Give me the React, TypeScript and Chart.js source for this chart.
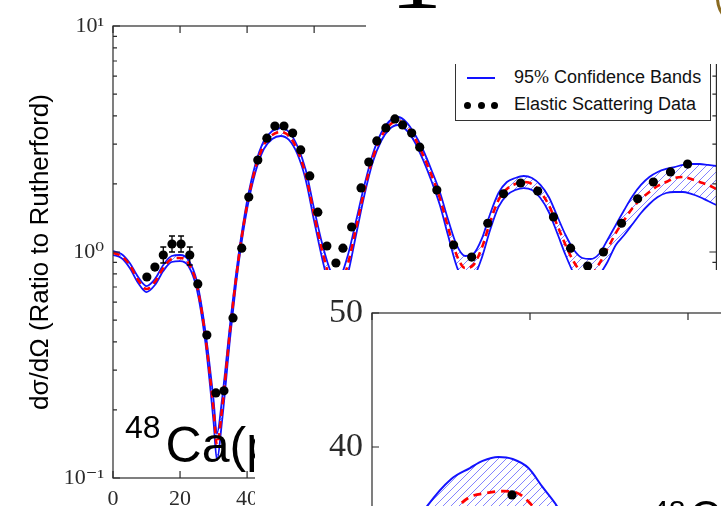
import React, { useEffect, useRef } from 'react';
import { Chart, registerables } from 'chart.js';

Chart.register(...registerables);

// ---------- main panel data (scattering angle in degrees) ----------
const thetaDeg = [0, 2.5, 5, 7.5, 10, 12.5, 15, 17.5, 20, 22.5,
  25, 27.5, 30, 31, 32.5, 35, 37.5, 40, 42.5, 45,
  47.5, 50, 52.5, 55, 57.5, 60, 62.5, 65, 67, 70,
  72.5, 75, 77.5, 80, 82.5, 85, 87.5, 90, 92.5, 95,
  97.5, 100, 102.5, 105, 107.5, 110, 112.5, 115, 117.5, 120,
  122.5, 125, 127.5, 130, 132.5, 135, 137.5, 140, 142.5, 145,
  147.5, 150, 152.5, 155, 157.5, 160, 162.5, 165, 167.5, 170,
  172.5, 175, 177.5, 180];

const theoryCurve = [0.990, 0.960, 0.876, 0.752, 0.686, 0.737, 0.850, 0.931, 0.941, 0.894,
  0.714, 0.429, 0.200, 0.140, 0.200, 0.461, 0.941, 1.614, 2.353, 2.975,
  3.294, 3.396, 3.261, 2.827, 2.191, 1.458, 1.000, 0.737, 0.665, 0.876,
  1.277, 1.881, 2.606, 3.228, 3.647, 3.798, 3.610, 3.195, 2.686, 2.191,
  1.734, 1.277, 0.970, 0.850, 0.876, 1.041, 1.357, 1.698, 1.900, 2.000,
  2.040, 2.000, 1.843, 1.614, 1.317, 1.074, 0.903, 0.807, 0.791, 0.885,
  1.031, 1.214, 1.385, 1.566, 1.716, 1.843, 1.959, 2.040, 2.125, 2.147,
  2.104, 2.040, 1.980, 1.900];

const upperBand = [1.010, 0.980, 0.894, 0.775, 0.707, 0.759, 0.876, 0.960, 0.970, 0.922,
  0.744, 0.452, 0.221, 0.157, 0.221, 0.490, 0.980, 1.681, 2.451, 3.099,
  3.431, 3.538, 3.396, 2.944, 2.306, 1.550, 1.074, 0.816, 0.752, 0.960,
  1.372, 1.980, 2.714, 3.362, 3.798, 3.957, 3.760, 3.328, 2.827, 2.306,
  1.843, 1.385, 1.074, 0.960, 0.980, 1.142, 1.473, 1.824, 2.040, 2.125,
  2.169, 2.125, 1.980, 1.751, 1.443, 1.189, 1.021, 0.941, 0.931, 0.980,
  1.130, 1.317, 1.534, 1.769, 1.980, 2.147, 2.259, 2.330, 2.377, 2.427,
  2.451, 2.451, 2.427, 2.402];

const lowerBand = [0.970, 0.941, 0.850, 0.729, 0.665, 0.714, 0.824, 0.903, 0.912, 0.867,
  0.686, 0.404, 0.177, 0.120, 0.177, 0.425, 0.894, 1.550, 2.259, 2.856,
  3.162, 3.261, 3.131, 2.714, 2.083, 1.372, 0.922, 0.659, 0.583, 0.791,
  1.189, 1.787, 2.502, 3.099, 3.501, 3.647, 3.466, 3.067, 2.554, 2.062,
  1.614, 1.177, 0.867, 0.737, 0.767, 0.941, 1.251, 1.582, 1.787, 1.881,
  1.919, 1.881, 1.734, 1.503, 1.214, 0.970, 0.799, 0.693, 0.665, 0.783,
  0.903, 1.074, 1.189, 1.330, 1.488, 1.631, 1.751, 1.824, 1.843, 1.843,
  1.806, 1.751, 1.681, 1.614];

const dataTheta = [10.1, 12.5, 15.0, 17.6, 20.3, 22.9, 25.3, 28.0, 30.7, 33.1,
  35.8, 38.4, 40.5, 43.2, 45.9, 48.3, 51.0, 53.6, 56.0, 58.7,
  61.1, 63.8, 66.5, 68.6, 71.2, 74.0, 76.3, 78.7, 81.4, 84.1,
  86.4, 89.1, 91.5, 96.6, 101.6, 107.0, 111.8, 116.5, 121.6, 126.7,
  131.4, 136.5, 141.6, 146.3, 151.7, 156.5, 161.2, 166.3, 171.4];

const dataValue = [0.775, 0.858, 0.970, 1.085, 1.085, 0.970, 0.722, 0.429, 0.238, 0.243,
  0.511, 1.04, 1.75, 2.55, 3.19, 3.61, 3.61, 3.36, 2.83, 2.17,
  1.50, 1.063, 0.894, 1.04, 1.29, 1.92, 2.50, 3.10, 3.54, 3.88,
  3.65, 3.36, 2.91, 1.88, 1.074, 0.95, 1.34, 1.81, 2.02, 1.86,
  1.43, 1.04, 0.867, 1.0, 1.34, 1.72, 2.04, 2.26, 2.45];

const errTheta = [15.0, 17.6, 20.3, 22.9];
const errLow = [0.894, 1.0, 1.0, 0.876];
const errHigh = [1.052, 1.177, 1.177, 1.052];

const xTicks = [0, 20, 40, 60, 80, 100, 120, 140, 160, 180];
const yMajorTicks = [0.1, 1, 10];
const yTickLabels = ['10⁻¹', '10⁰', '10¹'];
const yMinorTicks = [0.2, 0.3, 0.4, 0.5, 0.6, 0.7, 0.8, 0.9, 2, 3, 4, 5, 6, 7, 8, 9];

// ---------- inset panel data ----------
const insetX = [2, 3.5, 5, 6.2, 7, 8, 8.9, 9.9, 10.8, 11.7, 12.6, 14];
const insetUpper = [32.8, 35.6, 37.6, 38.43, 38.96, 39.25, 39.1, 38.43, 37.0, 35.6, 33.8, 31.0];
const insetLower = [30.5, 31.5, 32.5, 33.3, 33.8, 34.2, 34.0, 33.5, 32.8, 32.0, 31.0, 30.0];
const insetTheoryX = [4, 5.57, 6.2, 7.28, 8.29, 9.18, 10.0, 10.8, 11.5];
const insetTheory = [33.4, 35.7, 36.27, 36.57, 36.7, 36.57, 35.8, 34.6, 33.2];
const insetDataX = [8.86];
const insetDataY = [36.42];
const insetXTicks = [0, 10, 20, 30];
const insetYTicks = [30, 40, 50];

const SERIF = "'Liberation Serif', 'DejaVu Serif', serif";
const SANS = "'Liberation Sans', Arial, sans-serif";
const BLUE = '#1212ff';

function pts(xs: number[], ys: number[]) {
  return xs.map((x, i) => ({ x, y: ys[i] }));
}

function makeHatch() {
  const pc = document.createElement('canvas');
  pc.width = 8;
  pc.height = 8;
  const p = pc.getContext('2d')!;
  p.strokeStyle = 'rgba(110,110,255,0.85)';
  p.lineWidth = 1;
  p.beginPath();
  p.moveTo(0, 8); p.lineTo(8, 0);
  p.moveTo(-2, 2); p.lineTo(2, -2);
  p.moveTo(6, 10); p.lineTo(10, 6);
  p.stroke();
  return p.createPattern(pc, 'repeat');
}

function makeFrame(name: string, xMajor: number[], yMajor: number[], yMinor: number[]) {
  return {
    id: 'frame_' + name,
    afterDatasetsDraw(chart: any) {
      const { ctx, chartArea: a } = chart;
      const xs = chart.scales.x;
      const ys = chart.scales.y;
      ctx.save();
      ctx.strokeStyle = '#2a2a2a';
      ctx.lineWidth = 1.2;
      ctx.beginPath();
      for (const v of xMajor) {
        const p = xs.getPixelForValue(v);
        if (p < a.left - 0.5 || p > a.right + 0.5) continue;
        ctx.moveTo(p, a.bottom); ctx.lineTo(p, a.bottom - 7);
        ctx.moveTo(p, a.top); ctx.lineTo(p, a.top + 7);
      }
      for (const v of yMajor) {
        const p = ys.getPixelForValue(v);
        ctx.moveTo(a.left, p); ctx.lineTo(a.left + 7, p);
        ctx.moveTo(a.right, p); ctx.lineTo(a.right - 7, p);
      }
      for (const v of yMinor) {
        const p = ys.getPixelForValue(v);
        ctx.moveTo(a.left, p); ctx.lineTo(a.left + 4, p);
        ctx.moveTo(a.right, p); ctx.lineTo(a.right - 4, p);
      }
      ctx.stroke();
      ctx.strokeRect(a.left, a.top, a.right - a.left, a.bottom - a.top);
      ctx.restore();
    },
  };
}

const errorBarPlugin = {
  id: 'errorBars',
  afterDatasetsDraw(chart: any) {
    const { ctx } = chart;
    const xs = chart.scales.x;
    const ys = chart.scales.y;
    ctx.save();
    ctx.strokeStyle = '#000';
    ctx.lineWidth = 1.3;
    ctx.beginPath();
    errTheta.forEach((t, i) => {
      const x = xs.getPixelForValue(t);
      const y1 = ys.getPixelForValue(errLow[i]);
      const y2 = ys.getPixelForValue(errHigh[i]);
      ctx.moveTo(x, y1); ctx.lineTo(x, y2);
      ctx.moveTo(x - 3, y1); ctx.lineTo(x + 3, y1);
      ctx.moveTo(x - 3, y2); ctx.lineTo(x + 3, y2);
    });
    ctx.stroke();
    ctx.restore();
  },
};

function yLabel(v: number) {
  const i = yMajorTicks.findIndex((m) => Math.abs(m - v) / m < 1e-6);
  return i >= 0 ? yTickLabels[i] : '';
}

export default function App() {
  const mainRef = useRef<HTMLCanvasElement>(null);
  const insetRef = useRef<HTMLCanvasElement>(null);

  useEffect(() => {
    const hatch = makeHatch();
    const main = new Chart(mainRef.current!, {
      type: 'line',
      data: {
        datasets: [
          {
            label: 'Elastic Scattering Data',
            data: pts(dataTheta, dataValue),
            showLine: false,
            pointRadius: 4.6,
            pointBackgroundColor: '#000',
            pointBorderWidth: 0,
            borderColor: '#000',
            backgroundColor: '#000',
          },
          {
            label: 'Theory',
            data: pts(thetaDeg, theoryCurve),
            borderColor: '#ff0000',
            borderWidth: 2.6,
            borderDash: [7, 5],
            pointRadius: 0,
            fill: false,
            cubicInterpolationMode: 'monotone',
          },
          {
            label: '95% Confidence Bands',
            data: pts(thetaDeg, upperBand),
            borderColor: BLUE,
            borderWidth: 1.8,
            pointRadius: 0,
            fill: false,
            cubicInterpolationMode: 'monotone',
          },
          {
            label: '95% Confidence Bands (lower)',
            data: pts(thetaDeg, lowerBand),
            borderColor: BLUE,
            borderWidth: 1.8,
            pointRadius: 0,
            fill: '-1',
            backgroundColor: hatch as any,
            cubicInterpolationMode: 'monotone',
          },
        ],
      } as any,
      options: {
        responsive: false,
        animation: false,
        events: [],
        layout: { padding: { left: 0, right: 3, top: 26, bottom: 0 } },
        plugins: { legend: { display: false }, tooltip: { enabled: false } },
        scales: {
          x: {
            type: 'linear',
            min: 0,
            max: 180,
            grid: { display: false, drawTicks: false },
            border: { display: false },
            ticks: {
              stepSize: 20,
              padding: 8,
              autoSkip: false,
              maxRotation: 0,
              color: '#2a2a2a',
              font: { family: SERIF, size: 22 },
            },
            afterFit: (s: any) => {
              s.height = 28;
              s.paddingLeft = 0;
              s.paddingRight = 0;
            },
          },
          y: {
            type: 'logarithmic',
            min: 0.1,
            max: 10,
            grid: { display: false, drawTicks: false },
            border: { display: false },
            ticks: {
              padding: 9,
              autoSkip: false,
              color: '#2a2a2a',
              font: { family: SERIF, size: 22 },
              callback: (v: any) => yLabel(Number(v)),
            },
            title: {
              display: true,
              text: 'dσ/dΩ (Ratio to Rutherford)',
              color: '#000',
              font: { family: SANS, size: 26 },
              padding: { top: 25, bottom: 0 },
            },
            afterFit: (s: any) => {
              s.width = 113;
              s.paddingTop = 0;
              s.paddingBottom = 0;
            },
          },
        },
      } as any,
      plugins: [makeFrame('main', xTicks, yMajorTicks, yMinorTicks), errorBarPlugin],
    });

    const hatch2 = makeHatch();
    const inset = new Chart(insetRef.current!, {
      type: 'line',
      data: {
        datasets: [
          {
            label: 'data',
            data: pts(insetDataX, insetDataY),
            showLine: false,
            pointRadius: 4.6,
            pointBackgroundColor: '#000',
            pointBorderWidth: 0,
            borderColor: '#000',
          },
          {
            label: 'theory',
            data: pts(insetTheoryX, insetTheory),
            borderColor: '#ff0000',
            borderWidth: 2.8,
            borderDash: [8, 6],
            pointRadius: 0,
            fill: false,
            cubicInterpolationMode: 'monotone',
          },
          {
            label: 'upper',
            data: pts(insetX, insetUpper),
            borderColor: BLUE,
            borderWidth: 2,
            pointRadius: 0,
            fill: false,
            cubicInterpolationMode: 'monotone',
          },
          {
            label: 'lower',
            data: pts(insetX, insetLower),
            borderColor: BLUE,
            borderWidth: 2,
            pointRadius: 0,
            fill: '-1',
            backgroundColor: hatch2 as any,
            cubicInterpolationMode: 'monotone',
          },
        ],
      } as any,
      options: {
        responsive: false,
        animation: false,
        events: [],
        layout: { padding: { left: 0, right: 9, top: 43, bottom: 0 } },
        plugins: { legend: { display: false }, tooltip: { enabled: false } },
        scales: {
          x: {
            type: 'linear',
            min: 0,
            max: 30,
            grid: { display: false, drawTicks: false },
            border: { display: false },
            ticks: { display: false, stepSize: 10 },
            afterFit: (s: any) => {
              s.height = 29;
              s.paddingLeft = 0;
              s.paddingRight = 0;
            },
          },
          y: {
            type: 'linear',
            min: 30,
            max: 50,
            grid: { display: false, drawTicks: false },
            border: { display: false },
            ticks: {
              stepSize: 10,
              padding: 9,
              color: '#2a2a2a',
              font: { family: SERIF, size: 34 },
            },
            afterFit: (s: any) => {
              s.width = 117;
              s.paddingTop = 0;
              s.paddingBottom = 0;
            },
          },
        },
      } as any,
      plugins: [makeFrame('inset', insetXTicks, insetYTicks, [])],
    });

    return () => {
      main.destroy();
      inset.destroy();
    };
  }, []);

  const dot = (left: number) => (
    <div
      style={{
        position: 'absolute', left: left - 3.5, top: 64 - 3.5, width: 7, height: 7,
        borderRadius: '50%', background: '#000',
      }}
    />
  );

  return (
    <div
      style={{
        position: 'fixed', left: 0, top: 0, width: 721, height: 506,
        overflow: 'hidden', background: '#fff',
      }}
    >
      <canvas
        ref={mainRef}
        width={721}
        height={506}
        style={{ position: 'absolute', left: 0, top: 0, display: 'block' }}
      />

      {/* reaction label (partly covered by the inset) */}
      <div
        style={{
          position: 'absolute', left: 125, top: 420, fontFamily: SANS, fontSize: 50,
          lineHeight: 1, color: '#000', whiteSpace: 'nowrap',
        }}
      >
        <span style={{ fontSize: 32, position: 'relative', top: -24 }}>48</span>
        <span style={{ marginLeft: 5 }}>Ca(p,p)</span>
      </div>

      {/* legend */}
      <div
        style={{
          position: 'absolute', left: 455, top: 40, width: 256, height: 81,
          boxSizing: 'border-box', border: '1px solid #333', background: '#fff',
        }}
      >
        <div style={{ position: 'absolute', left: 11, top: 36, width: 28, height: 1.6, background: BLUE }} />
        <div
          style={{
            position: 'absolute', left: 58, top: 25, fontFamily: SANS, fontSize: 18,
            lineHeight: '22px', color: '#111', whiteSpace: 'nowrap',
          }}
        >
          95<span style={{ fontFamily: SERIF }}>%</span> Confidence Bands
        </div>
        {dot(11)}
        {dot(25)}
        {dot(38)}
        <div
          style={{
            position: 'absolute', left: 58, top: 52, fontFamily: SANS, fontSize: 18,
            lineHeight: '22px', color: '#111', whiteSpace: 'nowrap',
          }}
        >
          Elastic Scattering Data
        </div>
      </div>

      {/* overlapping slide element at the top right */}
      <div
        style={{
          position: 'absolute', left: 366, top: 0, width: 355, height: 64,
          background: '#fff', overflow: 'hidden',
        }}
      >
        <div
          style={{
            position: 'absolute', left: 24, top: -79, fontFamily: SERIF, fontSize: 104,
            lineHeight: 1, color: '#000',
          }}
        >
          1
        </div>
        <div
          style={{
            position: 'absolute', left: 350, top: -32, width: 60, height: 60,
            boxSizing: 'border-box', border: '3px solid #8a6a20', borderRadius: '50%',
          }}
        />
      </div>

      {/* inset panel */}
      <div
        style={{
          position: 'absolute', left: 255, top: 270, width: 466, height: 236,
          background: '#fff', overflow: 'hidden',
        }}
      >
        <canvas
          ref={insetRef}
          width={600}
          height={340}
          style={{ position: 'absolute', left: 0, top: 0, display: 'block' }}
        />
        <span
          style={{
            position: 'absolute', left: 397, top: 226, fontFamily: SANS, fontSize: 30,
            lineHeight: 1, color: '#000',
          }}
        >
          48
        </span>
        <span
          style={{
            position: 'absolute', left: 435, top: 225, fontFamily: SANS, fontSize: 42,
            lineHeight: 1, color: '#000', whiteSpace: 'nowrap',
          }}
        >
          Ca(p,p)
        </span>
      </div>
    </div>
  );
}
